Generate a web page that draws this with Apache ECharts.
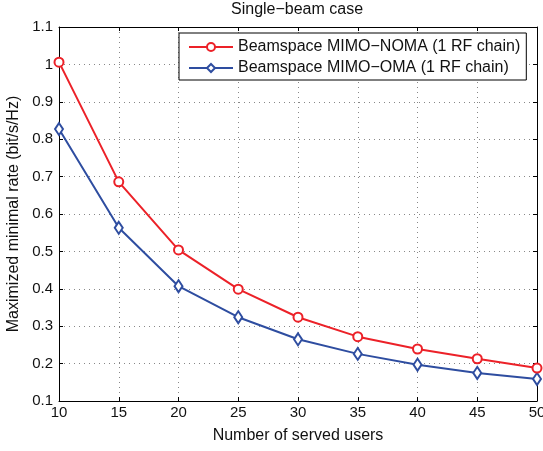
<!DOCTYPE html>
<html>
<head>
<meta charset="utf-8">
<script src="https://cdn.jsdelivr.net/npm/echarts@6/dist/echarts.min.js"></script>
<style>
  html, body { margin: 0; padding: 0; background: #fff; }
  #chart { width: 543px; height: 451px; }
</style>
</head>
<body>
<div id="chart"></div>
<script>
// served users on the x axis
const users = [10, 15, 20, 25, 30, 35, 40, 45, 50];
// maximized minimal rate (bit/s/Hz)
const noma = [1.006, 0.686, 0.504, 0.399, 0.324, 0.272, 0.239, 0.213, 0.188];
const oma = [0.827, 0.563, 0.407, 0.324, 0.265, 0.226, 0.197, 0.175, 0.159];

const FONT = "Liberation Sans";
const RED = "#ec2128";
const BLUE = "#2e4da0";

const pair = (ys) => users.map((x, i) => [x, ys[i]]);

const option = {
  animation: false,
  textStyle: { fontFamily: FONT },
  title: {
    text: "Single\u2212beam case",
    left: 231,
    top: 2,
    padding: 0,
    textStyle: { fontSize: 16, fontWeight: "normal", color: "#111", fontFamily: FONT },
  },
  legend: {
    orient: "vertical",
    left: 179,
    top: 33,
    padding: [4, 6, 2, 9],
    itemGap: 1,
    itemWidth: 44,
    itemHeight: 10,
    backgroundColor: "#fff",
    borderColor: "#000",
    borderWidth: 1,
    textStyle: { fontSize: 16, lineHeight: 20, color: "#111", fontFamily: FONT },
    data: ["Beamspace MIMO\u2212NOMA (1 RF chain)", "Beamspace MIMO\u2212OMA (1 RF chain)"],
  },
  grid: { left: 59, right: 6, top: 27, bottom: 50, outerBoundsMode: "none" },
  xAxis: [
    {
      type: "value",
      min: 10,
      max: 50,
      interval: 5,
      name: "Number of served users",
      nameLocation: "middle",
      nameGap: 27,
      nameTextStyle: { fontSize: 16, color: "#111" },
      axisLine: { lineStyle: { color: "#000", width: 1 } },
      axisTick: { inside: true, length: 4, lineStyle: { color: "#000" } },
      axisLabel: { fontSize: 15, color: "#111", margin: 4 },
      splitLine: { show: true, lineStyle: { color: "#888", type: [1, 4] } },
    },
    {
      type: "value",
      position: "top",
      min: 10,
      max: 50,
      interval: 5,
      axisLine: { lineStyle: { color: "#000" } },
      axisTick: { inside: true, length: 4, lineStyle: { color: "#000" } },
      axisLabel: { show: false },
      splitLine: { show: false },
    },
  ],
  yAxis: [
    {
      type: "value",
      min: 0.1,
      max: 1.1,
      interval: 0.1,
      name: "Maximized minimal rate (bit/s/Hz)",
      nameLocation: "middle",
      nameGap: 31,
      nameTextStyle: { fontSize: 16, color: "#111" },
      axisLine: { show: true, lineStyle: { color: "#000" } },
      axisTick: { show: true, inside: true, length: 4, lineStyle: { color: "#000" } },
      axisLabel: {
        fontSize: 15,
        color: "#111",
        margin: 6,
        formatter: (v) => String(+v.toFixed(1)),
      },
      splitLine: { show: true, lineStyle: { color: "#888", type: [1, 4] } },
    },
    {
      type: "value",
      position: "right",
      min: 0.1,
      max: 1.1,
      interval: 0.1,
      axisLine: { show: true, lineStyle: { color: "#000" } },
      axisTick: { show: true, inside: true, length: 4, lineStyle: { color: "#000" } },
      axisLabel: { show: false },
      splitLine: { show: false },
    },
  ],
  series: [
    {
      name: "Beamspace MIMO\u2212NOMA (1 RF chain)",
      type: "line",
      data: pair(noma),
      color: RED,
      symbol: "emptyCircle",
      symbolSize: 9,
      lineStyle: { width: 2, color: RED },
      itemStyle: { color: RED, borderWidth: 2 },
      z: 3,
    },
    {
      name: "Beamspace MIMO\u2212OMA (1 RF chain)",
      type: "line",
      data: pair(oma),
      color: BLUE,
      symbol: "emptyDiamond",
      symbolSize: [8, 12],
      lineStyle: { width: 2, color: BLUE },
      itemStyle: { color: BLUE, borderWidth: 2 },
      z: 2,
    },
  ],
};

const myChart = echarts.init(document.getElementById("chart"));
myChart.setOption(option);
</script>
</body>
</html>
